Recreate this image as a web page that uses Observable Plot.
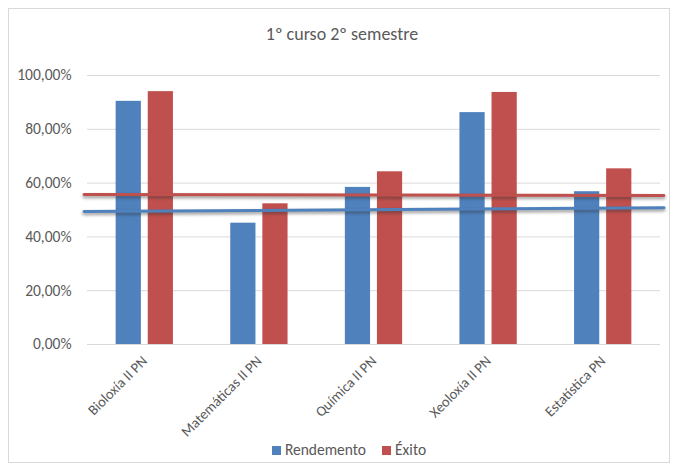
<!DOCTYPE html>
<html><head><meta charset="utf-8">
<script src="https://cdn.jsdelivr.net/npm/d3@7"></script>
<script src="https://cdn.jsdelivr.net/npm/@observablehq/plot@0.6"></script>
<style>
body{margin:0;background:#fff;font-family:Carlito,Lato,sans-serif;width:680px;height:470px;position:relative;overflow:hidden;}
#frame{position:absolute;left:8px;top:8px;width:662px;height:455px;border:1px solid #d9d9d9;box-sizing:border-box;}
#title{position:absolute;left:0;top:23px;width:684px;text-align:center;font-size:18px;color:#595959;}
#chart{position:absolute;left:0;top:50px;}
#legend{position:absolute;top:440px;left:0;width:698px;text-align:center;font-size:15.5px;color:#595959;}
#legend span.sw{display:inline-block;width:9px;height:9px;margin-right:4px;vertical-align:0px;}
#legend span.it{margin:0 8px;}
</style>
</head><body>
<div id="frame"></div>
<div id="title">1º curso 2º semestre</div>
<div id="chart"></div>
<div id="legend"></div>
<script>
const categories = ["Bioloxía II PN", "Matemáticas II PN", "Química II PN", "Xeoloxía II PN", "Estatística PN"];
const seriesNames = ["Rendemento", "Éxito"];
const seriesColors = ["#4f81bd", "#c0504d"];
const rendemento = [90.4, 45.1, 58.4, 86.2, 56.8];
const exito = [94.0, 52.3, 64.2, 93.7, 65.3];
const trendRendemento = [49.4, 50.8];
const trendExito = [55.8, 55.4];
const trendEnds = [-0.53, 4.53];
const yTicks = [0, 20, 40, 60, 80, 100];

const bars = [];
categories.forEach((c, i) => {
  bars.push({i, cat: c, series: seriesNames[0], value: rendemento[i]});
  bars.push({i, cat: c, series: seriesNames[1], value: exito[i]});
});
const trends = [
  ...trendEnds.map((x, k) => ({x, y: trendRendemento[k], series: seriesNames[0]})),
  ...trendEnds.map((x, k) => ({x, y: trendExito[k], series: seriesNames[1]}))
];
const off = {[seriesNames[0]]: [-0.25, -0.03], [seriesNames[1]]: [0.03, 0.25]};
const fmt = d => d3.format(".2f")(d).replace(".", ",") + "%";

const chart = Plot.plot({
  width: 680,
  height: 400,
  marginTop: 25,
  marginBottom: 106,
  marginLeft: 87,
  marginRight: 20,
  style: {fontFamily: "Carlito, Lato, sans-serif", fontSize: "15px", color: "#595959", background: "transparent", overflow: "visible"},
  x: {type: "linear", domain: [-0.5, 4.5], axis: null},
  y: {domain: [0, 100], axis: null},
  color: {domain: seriesNames, range: seriesColors},
  marks: [
    Plot.gridY(yTicks, {stroke: "#d9d9d9", strokeOpacity: 1}),
    Plot.axisY({ticks: yTicks, tickFormat: fmt, tickSize: 0, tickPadding: 16, fill: "#595959", fontSize: 15.5, label: null}),
    Plot.axisX({ticks: categories.map((c, i) => i), tickFormat: i => categories[i], tickRotate: -45, tickSize: 0, tickPadding: 14, fill: "#595959", fontSize: 14.5, label: null}),
    Plot.rectY(bars, {x1: d => d.i + off[d.series][0], x2: d => d.i + off[d.series][1], y: "value", fill: "series"}),
    Plot.line(trends, {x: "x", y: "y", z: "series", stroke: "#303031", strokeOpacity: 0.45, strokeWidth: 3.5, dy: 2}),
    Plot.line(trends, {x: "x", y: "y", z: "series", stroke: "series", strokeWidth: 3})
  ]
});
document.getElementById("chart").appendChild(chart);
d3.select(chart).selectAll('path[stroke="#303031"], g[stroke="#303031"]').style("filter", "blur(1.5px)");

const lg = document.getElementById("legend");
seriesNames.forEach((s, k) => {
  const it = document.createElement("span");
  it.className = "it";
  it.innerHTML = `<span class="sw" style="background:${seriesColors[k]}"></span>${s}`;
  lg.appendChild(it);
});
</script>
</body></html>
